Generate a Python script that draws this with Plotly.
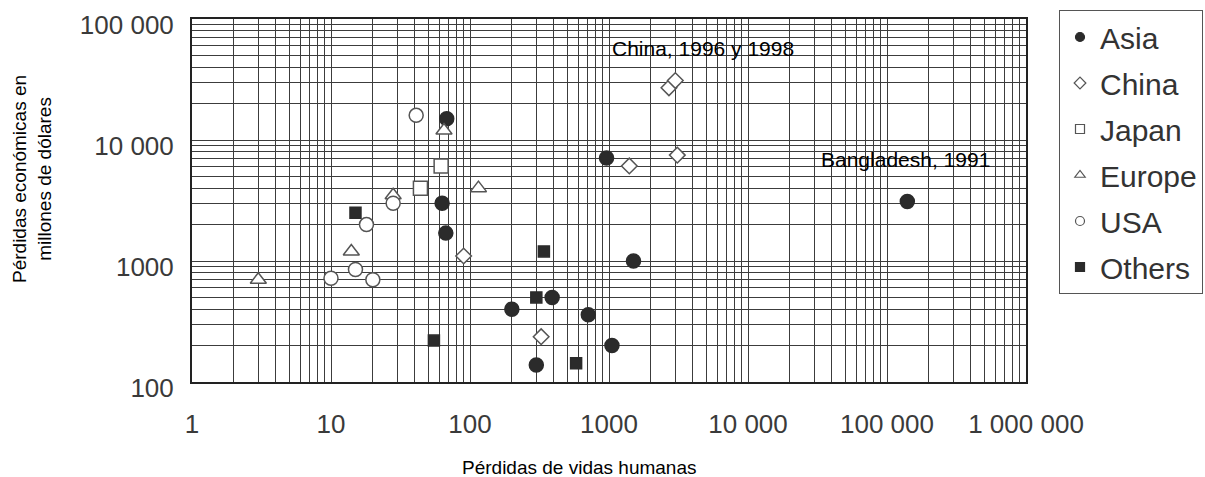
import plotly.graph_objects as go

# ---- data ----
asia_x = [68, 63, 67, 200, 300, 390, 710, 960, 1050, 1500, 140000]
asia_y = [15000, 3000, 1700, 400, 138, 500, 360, 7100, 200, 1000, 3100]

china_x = [90, 325, 1400, 2700, 3000, 3100]
china_y = [1100, 237, 6100, 27000, 31000, 7500]

japan_x = [44, 62]
japan_y = [4000, 6100]

europe_x = [3, 14, 28, 65, 115]
europe_y = [700, 1200, 3500, 12000, 4000]

usa_x = [10, 15, 18, 20, 28, 41]
usa_y = [720, 850, 2000, 700, 3000, 16000]

others_x = [15, 55, 300, 340, 580]
others_y = [2500, 220, 500, 1200, 143]

x_tickvals = [1, 10, 100, 1000, 10000, 100000, 1000000]
x_ticktext = ["1", "10", "100", "1000", "10 000", "100 000", "1 000 000"]
y_tickvals = [100, 1000, 10000, 100000]
y_ticktext = ["100", "1000", "10 000", "100 000"]

FONT = "Liberation Sans, Arial, sans-serif"
DARK = "#2b2b2b"
LINE = "#3c3c3c"

series = [
    ("Asia", asia_x, asia_y, "circle", 14, DARK, DARK),
    ("China", china_x, china_y, "diamond", 12, "white", "#555555"),
    ("Japan", japan_x, japan_y, "square", 14, "white", "#555555"),
    ("Europe", europe_x, europe_y, "triangle-up", 14, "white", "#555555"),
    ("USA", usa_x, usa_y, "circle", 14, "white", "#555555"),
    ("Others", others_x, others_y, "square", 11, DARK, DARK),
]

fig = go.Figure()
for name, xs, ys, sym, size, fill, lc in series:
    fig.add_trace(go.Scatter(
        x=xs, y=ys, mode="markers", name=name, showlegend=False,
        marker=dict(symbol=sym, size=size, color=fill,
                    line=dict(color=lc, width=1.5)),
    ))
# legend-only entries with small symbols as in the reference
for name, xs, ys, sym, size, fill, lc in series:
    fig.add_trace(go.Scatter(
        x=[None], y=[None], mode="markers", name=name, legendgroup=name,
        marker=dict(symbol=sym, size=9, color=fill,
                    line=dict(color=lc, width=1.2)),
    ))

axis_common = dict(
    type="log", showline=True, mirror=True, linecolor="#222222", linewidth=2,
    showgrid=True, gridcolor=LINE, gridwidth=1.3, zeroline=False,
    ticks="", tickfont=dict(family=FONT, size=26, color="#3a3a3a"),
    ticklabeloverflow="allow",
    minor=dict(dtick="D1", showgrid=True, gridcolor=LINE, gridwidth=1.1, ticks=""),
)

fig.update_xaxes(range=[0, 6], tickvals=x_tickvals, ticktext=x_ticktext,
                 ticklabelstandoff=18, **axis_common)
fig.update_yaxes(range=[2, 5], tickvals=y_tickvals, ticktext=y_ticktext,
                 ticklabelstandoff=11, ticklabelshift=6, **axis_common)

annot_font = dict(family=FONT, size=21, color="black")
fig.add_annotation(x=3.676, y=4.76, xref="x", yref="y", text="China, 1996 y 1998",
                   showarrow=False, font=annot_font)
fig.add_annotation(x=5.13, y=3.835, xref="x", yref="y", text="Bangladesh, 1991",
                   showarrow=False, font=annot_font)
# faint leader line near the China label
fig.add_shape(type="line", xref="x", yref="y", x0=3.80, y0=4.70, x1=3.93, y1=4.50,
              line=dict(color="#c8c8c8", width=1))

fig.add_annotation(text="Pérdidas de vidas humanas",
                   xref="paper", yref="paper", x=(579 - 192) / 834, y=(382 - 467) / 363,
                   xanchor="center", yanchor="middle",
                   showarrow=False, font=dict(family=FONT, size=19, color="black"))
fig.add_annotation(text="Pérdidas económicas en<br>millones de dólares", textangle=-90,
                   xref="paper", yref="paper", x=(32 - 192) / 834, y=(382 - 179) / 363,
                   xanchor="center", yanchor="middle",
                   showarrow=False, font=dict(family=FONT, size=19, color="black"))

fig.update_layout(
    width=1205, height=477,
    margin=dict(l=192, r=179, t=19, b=95, autoexpand=False),
    paper_bgcolor="white", plot_bgcolor="white",
    showlegend=True,
    legend=dict(
        x=(1059 - 192) / 834, y=(382 - 10) / 363, xanchor="left", yanchor="top",
        font=dict(family=FONT, size=30, color="#333333"),
        bordercolor="#555555", borderwidth=1, bgcolor="white",
        tracegroupgap=4, itemsizing="trace", maxheight=320,
    ),
)

fig.write_html("out.html")
